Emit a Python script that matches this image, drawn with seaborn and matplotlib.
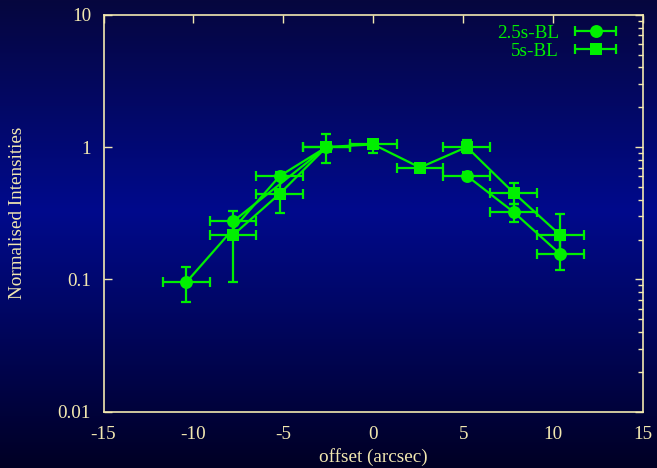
import numpy as np
import pandas as pd
import matplotlib
matplotlib.use("Agg")
import matplotlib.pyplot as plt
import seaborn as sns
from matplotlib.lines import Line2D
from matplotlib.legend_handler import HandlerLine2D, HandlerTuple
from matplotlib.ticker import FixedLocator, FixedFormatter, LogLocator, NullFormatter

# ---------------- data ----------------
# 2.5s-BL (circles); seg marks separate line pieces as they are joined in the original
bl25_x = [-10.4, -5.2, -2.6, -7.8, 5.2, 7.8, 10.4]
bl25_y = [0.095, 0.604, 1.0, 0.274, 0.607, 0.323, 0.155]
bl25_ylo = [0.067, 0.56, 0.93, 0.23, 0.57, 0.272, 0.117]
bl25_yhi = [0.124, 0.65, 1.07, 0.33, 0.65, 0.37, 0.20]
bl25_seg = [0, 0, 0, 0, 1, 1, 1]

# 5s-BL (squares)
bl5_x = [-7.8, -5.2, -2.6, 0.0, 2.6, 5.2, 7.8, 10.4]
bl5_y = [0.216, 0.444, 1.0, 1.047, 0.70, 1.0, 0.452, 0.216]
bl5_ylo = [0.096, 0.318, 0.753, 0.896, 0.66, 0.896, 0.371, 0.16]
bl5_yhi = [0.27, 0.57, 1.25, 1.10, 0.74, 1.14, 0.537, 0.312]
bl5_seg = [0, 0, 0, 0, 0, 0, 0, 0]

x_halfwidth = 1.3

xticks = [-15, -10, -5, 0, 5, 10, 15]
yticks = [0.01, 0.1, 1, 10]
ytick_labels = ["0.01", "0.1", "1", "10"]

# ---------------- style ----------------
GREEN = "#00f000"
CREAM = "#f2e8b0"
FONT = ["Liberation Serif", "DejaVu Serif"]
FS = 13.8

sns.set_theme(style="white")
plt.rcParams["font.family"] = FONT

fig = plt.figure(figsize=(6.57, 4.68), dpi=100)

# background gradient over the whole figure
bg = fig.add_axes([0, 0, 1, 1], zorder=-10)
stops = np.array([0.0, 0.45, 1.0])
cols = np.array([[6, 6, 62], [0, 10, 140], [0, 0, 36]]) / 255.0
t = np.linspace(0, 1, 468)
grad = np.stack([np.interp(t, stops, cols[:, i]) for i in range(3)], axis=-1)
grad = np.repeat(grad[:, None, :], 4, axis=1)
bg.imshow(grad, aspect="auto", extent=[0, 1, 0, 1], origin="upper")
bg.set_axis_off()

ax = fig.add_axes([103.5 / 657, 1 - 411.7 / 468, (643 - 103.5) / 657, (411.7 - 14.7) / 468])
ax.set_facecolor("none")

df25 = pd.DataFrame({"x": bl25_x, "y": bl25_y, "seg": bl25_seg})
df5 = pd.DataFrame({"x": bl5_x, "y": bl5_y, "seg": bl5_seg})

sns.lineplot(data=df25, x="x", y="y", units="seg", estimator=None, sort=False,
             color=GREEN, lw=1.6, marker="o", markersize=9.3, markeredgewidth=0,
             ax=ax, zorder=3)
sns.lineplot(data=df5, x="x", y="y", units="seg", estimator=None, sort=False,
             color=GREEN, lw=1.6, marker="s", markersize=9.3, markeredgewidth=0,
             ax=ax, zorder=3)

for xs, ys, lo, hi in [(bl25_x, bl25_y, bl25_ylo, bl25_yhi), (bl5_x, bl5_y, bl5_ylo, bl5_yhi)]:
    ys = np.array(ys)
    yerr = np.vstack([ys - np.array(lo), np.array(hi) - ys])
    ax.errorbar(xs, ys, yerr=yerr, xerr=x_halfwidth, fmt="none", ecolor=GREEN,
                elinewidth=1.6, capsize=3.5, capthick=1.6, zorder=2)

ax.set_yscale("log")
ax.set_xlim(-15, 15)
ax.set_ylim(0.01, 10)

ax.xaxis.set_major_locator(FixedLocator(xticks))
ax.xaxis.set_major_formatter(FixedFormatter([str(v) for v in xticks]))
ax.yaxis.set_major_locator(FixedLocator(yticks))
ax.yaxis.set_major_formatter(FixedFormatter(ytick_labels))
ax.yaxis.set_minor_locator(LogLocator(base=10, subs=np.arange(2, 10)))
ax.yaxis.set_minor_formatter(NullFormatter())

ax.tick_params(which="both", direction="in", colors=CREAM, top=True, right=True,
               labelsize=FS)
ax.tick_params(which="major", length=6, width=1)
ax.tick_params(which="minor", length=3.5, width=1)
ax.tick_params(axis="x", pad=10.5)
ax.tick_params(axis="y", pad=9, left=True)
for lab in ax.get_xticklabels() + ax.get_yticklabels():
    lab.set_color(CREAM)
    lab.set_family(FONT)
for sp in ax.spines.values():
    sp.set_color(CREAM)
    sp.set_linewidth(1.2)
    sp.set_visible(True)

ax.set_xlabel("offset (arcsec)", color=CREAM, fontsize=FS)
ax.set_ylabel("Normalised Intensities", color=CREAM, fontsize=FS)
ax.xaxis.set_label_coords(0.5, (411.7 - 448.5) / 397)
ax.yaxis.set_label_coords((26 - 103.5) / 539.5, 0.5)

# legend: text first, then sample with end caps and marker
cap1 = Line2D([], [], color=GREEN, lw=1.6, marker="|", markersize=7, markeredgewidth=1.6)
cap2 = Line2D([], [], color=GREEN, lw=1.6, marker="|", markersize=7, markeredgewidth=1.6)
m1 = Line2D([], [], color=GREEN, lw=0, marker="o", markersize=9.3, markeredgewidth=0)
m2 = Line2D([], [], color=GREEN, lw=0, marker="s", markersize=9.3, markeredgewidth=0)
leg = ax.legend([(cap1, m1), (cap2, m2)], ["2.5s-BL", "5s-BL"],
                handler_map={cap1: HandlerLine2D(numpoints=2), cap2: HandlerLine2D(numpoints=2),
                             tuple: HandlerTuple(ndivide=1)},
                loc="upper right", frameon=False, markerfirst=False, fontsize=FS,
                handlelength=2.75, handletextpad=0.55, labelspacing=0.04,
                borderaxespad=0, borderpad=0,
                bbox_to_anchor=((622 - 103.5) / 539.5, 1 - 9.5 / 397))
for txt in leg.get_texts():
    txt.set_color(GREEN)
    txt.set_family(FONT)

fig.savefig("out.png", dpi=100)
